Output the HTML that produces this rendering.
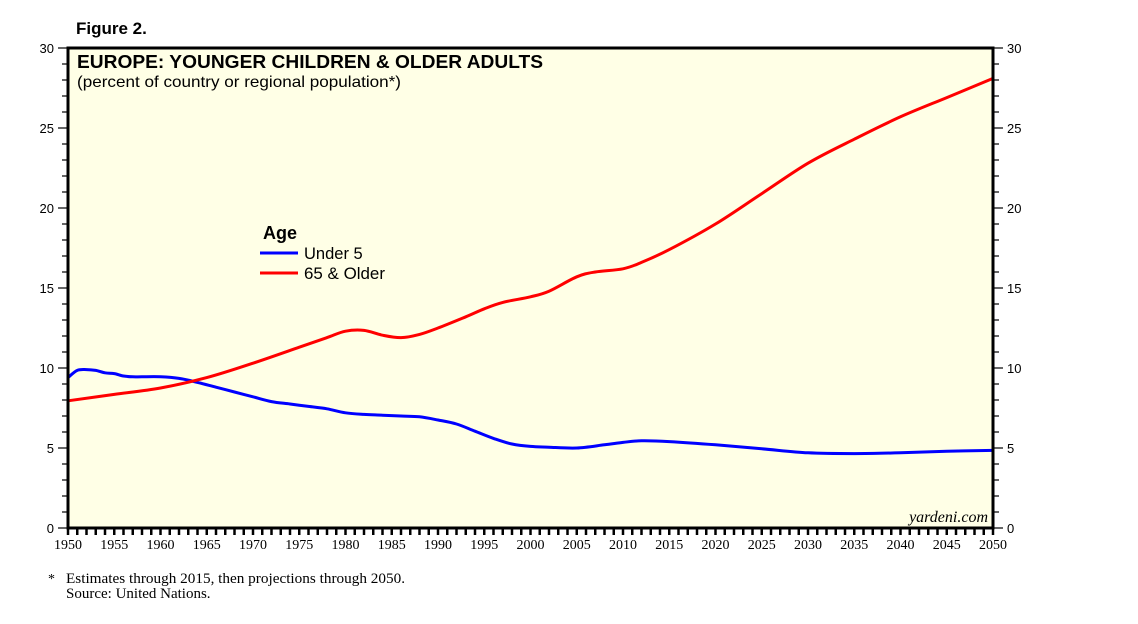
<!DOCTYPE html>
<html><head><meta charset="utf-8"><style>
body{margin:0;background:#fff;width:1138px;height:624px;overflow:hidden}
svg{display:block}
</style></head><body>
<svg id="c" width="1138" height="624" font-family="Liberation Sans, sans-serif">
<text x="76" y="34" font-size="17" font-weight="bold">Figure 2.</text>
<rect x="68" y="48" width="925" height="480" fill="#ffffe6"/>
<g id="ticks"></g>
<g id="lines"></g>
<rect x="68" y="48" width="925" height="480" fill="none" stroke="#000" stroke-width="3"/>
<text x="77" y="68" font-size="18" font-weight="bold" textLength="466" lengthAdjust="spacingAndGlyphs">EUROPE: YOUNGER CHILDREN &amp; OLDER ADULTS</text>
<text x="77" y="87" font-size="16" textLength="324" lengthAdjust="spacingAndGlyphs">(percent of country or regional population*)</text>
<text x="263" y="239" font-size="18" font-weight="bold">Age</text>
<line x1="260" y1="253" x2="298" y2="253" stroke="#0000ff" stroke-width="3"/>
<text x="304" y="259" font-size="16.5">Under 5</text>
<line x1="260" y1="273" x2="298" y2="273" stroke="#ff0000" stroke-width="3"/>
<text x="304" y="279" font-size="16.5" textLength="81" lengthAdjust="spacingAndGlyphs">65 &amp; Older</text>
<text x="988" y="522" font-size="16" font-style="italic" text-anchor="end" font-family="Liberation Serif, serif">yardeni.com</text>
<text x="48" y="583" font-size="14" font-family="Liberation Serif, serif">*</text>
<text x="66" y="583" font-size="15" textLength="339" lengthAdjust="spacingAndGlyphs" font-family="Liberation Serif, serif">Estimates through 2015, then projections through 2050.</text>
<text x="66" y="598" font-size="15" font-family="Liberation Serif, serif">Source: United Nations.</text>
</svg>
<script>
const yTicks=[0,5,10,15,20,25,30];
const xTickLabels=[1950,1955,1960,1965,1970,1975,1980,1985,1990,1995,2000,2005,2010,2015,2020,2025,2030,2035,2040,2045,2050];
const u5Years=[1950,1951,1952,1953,1954,1955,1956,1957,1958,1960,1962,1964,1966,1968,1970,1972,1974,1976,1978,1980,1982,1984,1986,1988,1990,1992,1994,1996,1998,2000,2002,2005,2008,2010,2012,2015,2020,2025,2030,2035,2040,2045,2050];
const u5Values=[9.4,9.85,9.9,9.85,9.7,9.65,9.5,9.45,9.45,9.45,9.35,9.1,8.8,8.5,8.2,7.9,7.75,7.6,7.45,7.2,7.1,7.05,7.0,6.95,6.75,6.5,6.05,5.6,5.25,5.1,5.05,5.0,5.2,5.35,5.45,5.4,5.2,4.95,4.7,4.65,4.7,4.8,4.85];
const oldYears=[1950,1955,1960,1965,1970,1975,1978,1980,1982,1984,1986,1988,1990,1993,1995,1997,2000,2002,2005,2007,2010,2012,2015,2020,2025,2030,2035,2040,2045,2050];
const oldValues=[7.95,8.35,8.75,9.4,10.3,11.3,11.9,12.3,12.35,12.05,11.9,12.1,12.5,13.2,13.7,14.1,14.45,14.8,15.7,16.0,16.2,16.6,17.4,19.0,20.9,22.8,24.3,25.7,26.9,28.1];
const NS='http://www.w3.org/2000/svg';
const X=y=>68+(y-1950)*(925/100);
const Y=v=>528-v*(480/30);
function mk(t,a,p){const e=document.createElementNS(NS,t);for(const k in a)e.setAttribute(k,a[k]);p.appendChild(e);return e;}
const tg=document.getElementById('ticks');
for(let v=0;v<=30;v++){
  const len=(v%5===0)?10:6;
  const l=mk('line',{x1:68-len,y1:Y(v),x2:68,y2:Y(v),stroke:'#000','stroke-width':1.2},tg);
  
  
  const r=mk('line',{x1:993,y1:Y(v),x2:993+len,y2:Y(v),stroke:'#000','stroke-width':1.2},tg);
  
  
}
yTicks.forEach(v=>{
  const a=mk('text',{x:54,y:Y(v)+5,'font-size':13,'text-anchor':'end'},tg);a.textContent=v;
  
  
  const b=mk('text',{x:1007,y:Y(v)+5,'font-size':13},tg);b.textContent=v;
  
  
});
for(let y=1950;y<=2050;y++){
  const t=mk('line',{x1:X(y),y1:528,x2:X(y),y2:535,stroke:'#000','stroke-width':2.5},tg);
  
  
}
xTickLabels.forEach(y=>{
  const t=mk('text',{x:X(y),y:549,'font-size':14,'text-anchor':'middle','font-family':'Liberation Serif, serif'},tg);t.textContent=y;
  
  
});
const lg=document.getElementById('lines');
function path(xs,vs,color,name){
  const P=xs.map((x,i)=>[X(x),Y(vs[i])]);
  let d='M'+P[0][0].toFixed(1)+','+P[0][1].toFixed(1);
  for(let i=0;i<P.length-1;i++){
    const p0=P[i-1]||P[i],p1=P[i],p2=P[i+1],p3=P[i+2]||p2;
    const c1=[p1[0]+(p2[0]-p0[0])/6,p1[1]+(p2[1]-p0[1])/6];
    const c2=[p2[0]-(p3[0]-p1[0])/6,p2[1]-(p3[1]-p1[1])/6];
    d+='C'+c1.map(n=>n.toFixed(1)).join(',')+' '+c2.map(n=>n.toFixed(1)).join(',')+' '+p2.map(n=>n.toFixed(1)).join(',');
  }
  const p=mk('path',{d:d,fill:'none',stroke:color,'stroke-width':3,'stroke-linejoin':'round'},lg);
  
  
}
path(u5Years,u5Values,'#0000ff','line-under5');
path(oldYears,oldValues,'#ff0000','line-65older');
</script>
</body></html>
